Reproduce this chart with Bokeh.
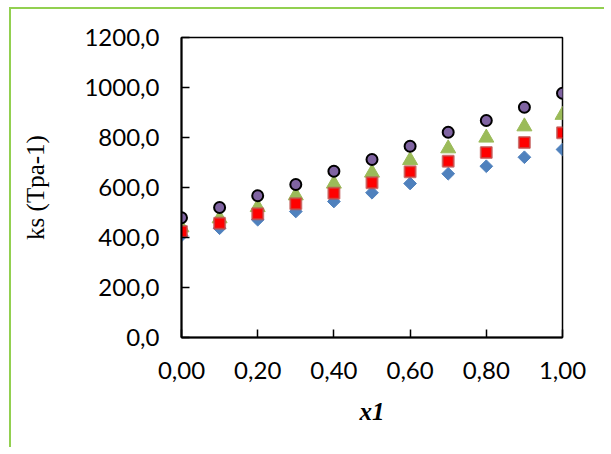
import numpy as np
from bokeh.plotting import figure
from bokeh.models import FixedTicker, CustomJSTickFormatter, Range1d
from bokeh.embed import file_html
from bokeh.resources import INLINE

# ---- data ----
x1 = [0.0, 0.1, 0.2, 0.3, 0.4, 0.5, 0.6, 0.7, 0.8, 0.9, 1.0]
ks_diamond = [408, 437, 471, 504, 544, 579, 616, 655, 685, 721, 752]
ks_square = [424, 457, 495, 535, 577, 619, 663, 705, 740, 780, 819]
ks_triangle = [440, 476, 521, 568, 615, 659, 709, 756, 799, 844, 890]
ks_circle = [479, 520, 567, 612, 665, 712, 765, 821, 868, 921, 977]
x_ticks = [0.0, 0.2, 0.4, 0.6, 0.8, 1.0]
y_ticks = [0, 200, 400, 600, 800, 1000, 1200]

p = figure(width=595, height=440, output_backend="svg", toolbar_location=None,
           x_range=Range1d(0, 1.0), y_range=Range1d(0, 1200),
           min_border_left=170, min_border_right=44, min_border_top=28,
           min_border_bottom=112)
p.styles = {"border-left": "2px solid #92D050", "border-top": "2px solid #92D050",
            "margin-left": "9px", "margin-top": "7px"}

p.xgrid.visible = False
p.ygrid.visible = False
p.outline_line_color = "black"
p.outline_line_width = 1.5
p.background_fill_color = "white"
p.border_fill_color = "white"

for ax in (p.xaxis[0], p.yaxis[0]):
    ax.axis_line_color = "black"
    ax.axis_line_width = 2
    ax.major_tick_in = 8
    ax.major_tick_out = 0
    ax.major_tick_line_color = "black"
    ax.major_tick_line_width = 1.5
    ax.minor_tick_line_color = None
    ax.major_label_text_font = "Lato"
    ax.major_label_text_font_size = "24px"
    ax.major_label_text_color = "black"

p.xaxis.ticker = FixedTicker(ticks=x_ticks)
p.yaxis.ticker = FixedTicker(ticks=y_ticks)
p.xaxis.formatter = CustomJSTickFormatter(code="return tick.toFixed(2).replace('.', ',');")
p.yaxis.formatter = CustomJSTickFormatter(code="return tick.toFixed(1).replace('.', ',');")
p.xaxis.major_label_standoff = 24
p.yaxis.major_label_standoff = 22

p.yaxis.axis_label = "ks (Tpa-1)"
p.yaxis.axis_label_text_font = "Liberation Serif"
p.yaxis.axis_label_text_font_style = "normal"
p.yaxis.axis_label_text_font_size = "25px"
p.yaxis.axis_label_text_color = "black"
p.yaxis.axis_label_standoff = 32

p.xaxis.axis_label = "x1"
p.xaxis.axis_label_text_font = "Liberation Serif"
p.xaxis.axis_label_text_font_style = "bold italic"
p.xaxis.axis_label_text_font_size = "25px"
p.xaxis.axis_label_text_color = "black"
p.xaxis.axis_label_standoff = 16

p.scatter(x1, ks_diamond, marker="square", angle=np.pi / 4, size=9,
          fill_color="#4F81BD", line_color="#4F81BD", line_width=1)
p.scatter(x1, ks_triangle, marker="triangle", size=15,
          fill_color="#9BBB59", line_color="#9BBB59", line_width=1)
p.scatter(x1, ks_square, marker="square", size=11,
          fill_color="#FF0000", line_color="#C0504D", line_alpha=0.75, line_width=2)
p.scatter(x1, ks_circle, marker="circle", size=11,
          fill_color="#8064A2", line_color="black", line_width=2)

open("out.html", "w").write(file_html(p, INLINE))
